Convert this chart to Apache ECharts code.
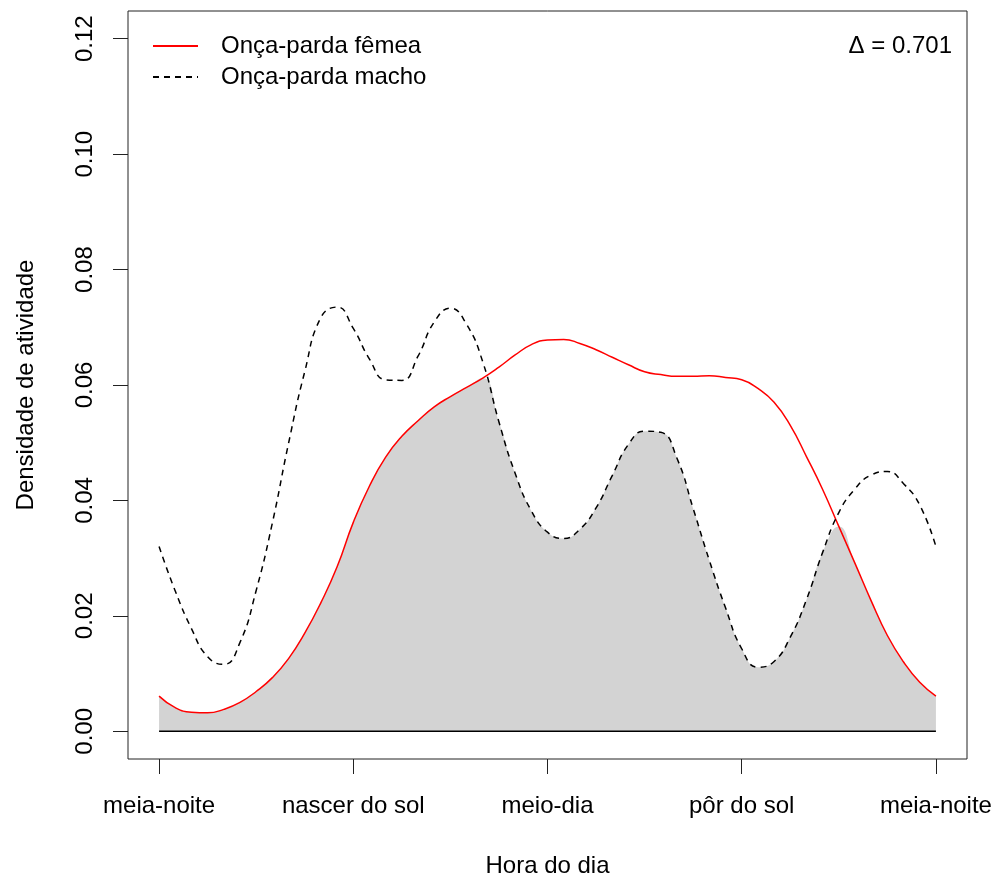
<!DOCTYPE html>
<html>
<head>
<meta charset="utf-8">
<script src="https://cdn.jsdelivr.net/npm/echarts@6/dist/echarts.min.js"></script>
<style>
html,body{margin:0;padding:0;background:#fff;}
#chart{width:997px;height:879px;}
</style>
</head>
<body>
<div id="chart"></div>
<script>
// Hours of day (x values)
var hours = [0,0.5,1,1.5,2,2.5,3,3.5,4,4.5,5,5.5,6,6.5,7,7.5,8,8.5,9,9.5,10,10.5,11,11.5,12,
             12.5,13,13.5,14,14.5,15,15.5,16,16.5,17,17.5,18,18.5,19,19.5,20,20.5,21,21.5,22,22.5,23,23.5,24];
// Onça-parda fêmea (female) density
var femea = [0.0061,0.0041,0.0033,0.0032,0.0038,0.0050,0.0069,0.0093,0.0126,0.0170,0.0223,0.0285,0.0362,
             0.0425,0.0475,0.0511,0.0538,0.0562,0.0580,0.0596,0.0612,0.0631,0.0652,0.0670,0.0678,
             0.0679,0.0672,0.0661,0.0648,0.0635,0.0623,0.0618,0.0615,0.0615,0.0616,0.0613,0.0609,
             0.0594,0.0570,0.0530,0.0476,0.0419,0.0355,0.0291,0.0226,0.0166,0.0120,0.0085,0.0061];
// Onça-parda macho (male) density
var macho = [0.0320,0.0243,0.0178,0.0129,0.0116,0.0154,0.0244,0.0361,0.0499,0.0623,0.0717,0.0735,0.0698,
             0.0645,0.0609,0.0608,0.0650,0.0709,0.0733,0.0705,0.0640,0.0536,0.0447,0.0382,0.0345,
             0.0334,0.0350,0.0387,0.0443,0.0497,0.0520,0.0518,0.0473,0.0386,0.0296,0.0214,0.0143,
             0.0111,0.0121,0.0163,0.0228,0.0310,0.0379,0.0420,0.0444,0.0450,0.0429,0.0392,0.0320];
// Tick positions and labels
var xTicks = [0,6,12,18,24];
var xTickLabels = ["meia-noite","nascer do sol","meio-dia","pôr do sol","meia-noite"];
var yTicks = [0,0.02,0.04,0.06,0.08,0.10,0.12];
var yTickLabels = ["0.00","0.02","0.04","0.06","0.08","0.10","0.12"];
var seriesNames = ["Onça-parda fêmea","Onça-parda macho"];
var deltaText = "\u0394 = 0.701";
var xTitle = "Hora do dia";
var yTitle = "Densidade de atividade";

var FONT = "Liberation Sans, Arial, sans-serif";
var overlap = hours.map(function(h,i){ return [h, Math.min(femea[i], macho[i])]; });
var fData = hours.map(function(h,i){ return [h, femea[i]]; });
var mData = hours.map(function(h,i){ return [h, macho[i]]; });
var base = [[hours[0],0],[hours[hours.length-1],0]];

var chart = echarts.init(document.getElementById('chart'), null, {renderer:'canvas'});
chart.setOption({
  animation:false,
  backgroundColor:'#fff',
  textStyle:{fontFamily:FONT},
  title:{
    text:deltaText, right:40, top:29,
    textStyle:{fontFamily:FONT,fontSize:24,fontWeight:'normal',color:'#000'}
  },
  legend:{
    data:seriesNames, orient:'vertical', left:152, top:34, padding:0,
    itemWidth:45, itemHeight:14, itemGap:7,
    itemStyle:{opacity:0},
    textStyle:{fontFamily:FONT,fontSize:24,color:'#000',padding:[0,0,0,18],lineHeight:24}
  },
  grid:{left:128,right:30,top:11,bottom:120,show:true,borderColor:'#222',borderWidth:1,
        backgroundColor:'transparent',containLabel:false,outerBoundsMode:'none'},
  xAxis:{
    type:'value', min:-0.96, max:24.96,
    name:xTitle, nameLocation:'middle', nameGap:95,
    nameTextStyle:{fontFamily:FONT,fontSize:24,color:'#000'},
    axisLine:{show:false,onZero:false},
    splitLine:{show:false},
    axisTick:{show:true,length:15,customValues:xTicks,lineStyle:{color:'#222',width:1}},
    axisLabel:{show:true,margin:35,customValues:xTicks,fontFamily:FONT,fontSize:24,color:'#000',
      formatter:function(v){ var i=xTicks.indexOf(v); return i>=0?xTickLabels[i]:''; }}
  },
  yAxis:{
    type:'value', min:-0.0048, max:0.1248,
    name:yTitle, nameLocation:'middle', nameGap:90, nameRotate:90,
    nameTextStyle:{fontFamily:FONT,fontSize:24,color:'#000'},
    axisLine:{show:false,onZero:false},
    splitLine:{show:false},
    axisTick:{show:true,length:15,customValues:yTicks,lineStyle:{color:'#222',width:1}},
    axisLabel:{show:true,rotate:90,margin:31,customValues:yTicks,fontFamily:FONT,fontSize:24,color:'#000',
      formatter:function(v){ for(var i=0;i<yTicks.length;i++){ if(Math.abs(yTicks[i]-v)<1e-9) return yTickLabels[i]; } return ''; }}
  },
  series:[
    {name:'overlap', type:'line', data:overlap, smooth:true, symbol:'none',
     lineStyle:{width:0,opacity:0}, areaStyle:{color:'#D3D3D3',opacity:1}, z:1, silent:true},
    {name:'base', type:'line', data:base, symbol:'none', lineStyle:{color:'#000',width:1.5}, z:2, silent:true},
    {name:seriesNames[0], type:'line', data:fData, smooth:true, symbol:'none',
     lineStyle:{color:'#FF0000',width:1.5,type:'solid'}, itemStyle:{color:'#FF0000'}, z:3},
    {name:seriesNames[1], type:'line', data:mData, smooth:true, symbol:'none',
     lineStyle:{color:'#000',width:1.5,type:[6,5]}, itemStyle:{color:'#000'}, z:4}
  ]
});
</script>
</body>
</html>
